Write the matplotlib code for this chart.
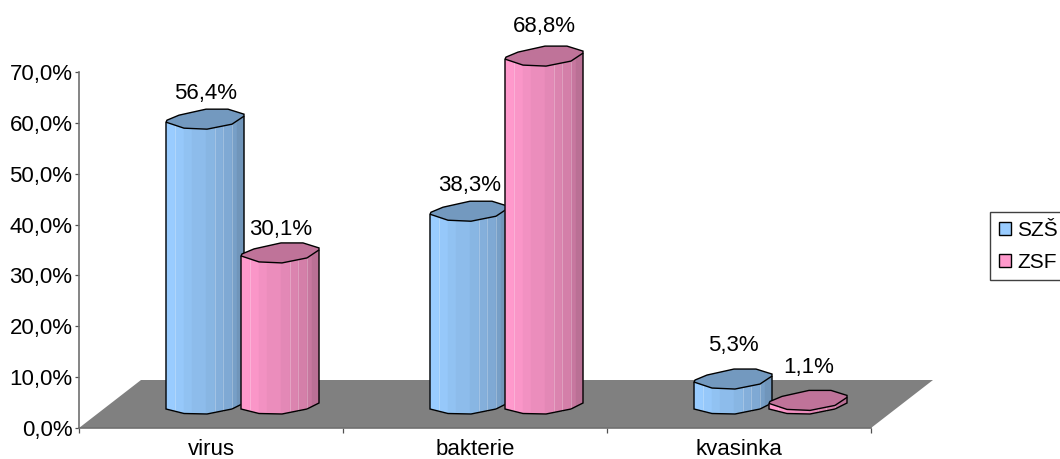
import numpy as np
import matplotlib
matplotlib.use("Agg")
import matplotlib.pyplot as plt
from matplotlib.patches import Polygon, Patch

plt.rcParams['font.family'] = ['Liberation Sans', 'DejaVu Sans']

categories = ["virus", "bakterie", "kvasinka"]
series_names = ["SZŠ", "ZSF"]
szs_values = [56.4, 38.3, 5.3]
zsf_values = [30.1, 68.8, 1.1]
y_ticks = [0, 10, 20, 30, 40, 50, 60, 70]
y_tick_labels = ["0,0%", "10,0%", "20,0%", "30,0%", "40,0%", "50,0%", "60,0%", "70,0%"]

# Height of each value label above its cylinder, in pixels
szs_label_lift = [29, 29, 37]
zsf_label_lift = [26, 33, 36]

W, H = 1060, 459
AX_L, AX_R, AX_T, AX_B = 79, 871, 72, 428
PX_X = 3 / (AX_R - AX_L)      # data units per pixel, horizontally
PX_Y = 70 / (AX_B - AX_T)     # data units per pixel, vertically
FONT = 16

fig = plt.figure(figsize=(W / 100, H / 100), dpi=100, facecolor="white")
ax = fig.add_axes([AX_L / W, 1 - AX_B / H, (AX_R - AX_L) / W, (AX_B - AX_T) / H])
ax.set_xlim(0, 3)
ax.set_ylim(0, 70)
ax.patch.set_visible(False)

# Floor of the 3D scene
dx, dy = 62 * PX_X, 48 * PX_Y
ax.add_patch(Polygon([(0, 0), (dx, dy), (3 + dx, dy), (3, 0)], closed=True,
                     fc="#808080", ec="none", clip_on=False, zorder=1))

# Octagon-like outlines of the cylinder ends, in pixels from the left edge
base_x = np.array([0, 18, 41, 66, 78])
base_y = np.array([0, 4.5, 5, 0, -6])
cap_front_y = np.array([0, 6, 7, 2, -6])
cap_x = [0, 18, 41, 66, 78, 78, 62, 40, 13, 1]
cap_y = [0, 6, 7, 2, -6, -8, -13, -13, -7, -2]
strip_edges = [0, 9, 18, 26, 40, 49, 57, 66, 71, 78]
strip_shades = [1.0, 0.98, 0.95, 0.92, 0.89, 0.86, 0.83, 0.78, 0.73]
pale_lines = [9, 49, 57, 66]

BASE_Y = 19 * PX_Y
BLUE = np.array([0x99, 0xCC, 0xFF]) / 255
PINK = np.array([0xFF, 0x99, 0xCC]) / 255


def draw_cylinder(left_px, value, color, z):
    """Draw one shaded cylinder whose left edge sits at left_px pixels from the axis."""
    x0 = left_px * PX_X
    top = BASE_Y + value

    def lower(x):
        return BASE_Y - np.interp(x, base_x, base_y) * PX_Y

    def upper(x):
        return top - np.interp(x, base_x, cap_front_y) * PX_Y

    for i, shade in enumerate(strip_shades):
        a, b = strip_edges[i], strip_edges[i + 1]
        xs = np.array([a, *base_x[(base_x > a) & (base_x < b)], b], dtype=float)
        pts = [(x0 + x * PX_X, lower(x)) for x in xs]
        pts += [(x0 + x * PX_X, upper(x)) for x in xs[::-1]]
        ax.add_patch(Polygon(pts, closed=True, fc=color * shade, ec=color * shade,
                             lw=0.3, zorder=z, clip_on=False))
    for x in pale_lines:
        ax.plot([x0 + x * PX_X] * 2, [lower(x), upper(x)], color="white", alpha=0.3,
                lw=0.6, zorder=z + 0.05, clip_on=False)
    # Outline of the side
    side = [(x0, top)] + [(x0 + x * PX_X, BASE_Y - y * PX_Y) for x, y in zip(base_x, base_y)]
    side.append((x0 + 78 * PX_X, upper(78)))
    ax.add_patch(Polygon(side, closed=False, fc="none", ec="black", lw=1.0,
                         zorder=z + 0.1, clip_on=False))
    # Cap
    cap = [(x0 + x * PX_X, top - y * PX_Y) for x, y in zip(cap_x, cap_y)]
    ax.add_patch(Polygon(cap, closed=True, fc=color * 0.75, ec="black", lw=1.0,
                         zorder=z + 0.2, clip_on=False))


z = 2
for i, cat in enumerate(categories):
    group_px = i * (AX_R - AX_L) / 3
    for off, values, lifts, col in ((87, szs_values, szs_label_lift, BLUE),
                                    (162, zsf_values, zsf_label_lift, PINK)):
        left_px = group_px + off
        v = values[i]
        draw_cylinder(left_px, v, col, z)
        z += 1
        ax.text((left_px + 39.5) * PX_X, BASE_Y + v + lifts[i] * PX_Y,
                f"{v:.1f}%".replace(".", ","), ha="center", va="center",
                fontsize=FONT, color="black", zorder=50, clip_on=False)

# Axes, ticks and labels
for name in ("top", "right"):
    ax.spines[name].set_visible(False)
for name in ("left", "bottom"):
    ax.spines[name].set_color("#707070")
    ax.spines[name].set_linewidth(1.2)
    ax.spines[name].set_zorder(40)
ax.set_yticks(y_ticks)
ax.set_yticklabels(y_tick_labels, fontsize=FONT)
ax.tick_params(axis="y", length=3.2, width=0.9, color="#505050", pad=1.5)
ax.set_xticks([0, 1, 2, 3])
ax.set_xticklabels([])
ax.set_xticks([0.5, 1.5, 2.5], minor=True)
ax.set_xticklabels(categories, minor=True, fontsize=FONT)
ax.tick_params(axis="x", which="major", length=3.5, width=0.9, color="#505050")
ax.tick_params(axis="x", which="minor", length=0, pad=8)

handles = [Patch(fc=BLUE, ec="black", lw=1.0, label=series_names[0]),
           Patch(fc=PINK, ec="black", lw=1.0, label=series_names[1])]
leg = fig.legend(handles=handles, loc="upper left",
                 bbox_to_anchor=(990 / W, 1 - 212 / H), bbox_transform=fig.transFigure,
                 fontsize=15, fancybox=False, framealpha=1, edgecolor="#404040",
                 handlelength=0.58, handleheight=0.58, handletextpad=0.3,
                 borderpad=0.42, labelspacing=0.62, borderaxespad=0)
leg.get_frame().set_linewidth(1.0)

fig.savefig("out.png", dpi=100)
